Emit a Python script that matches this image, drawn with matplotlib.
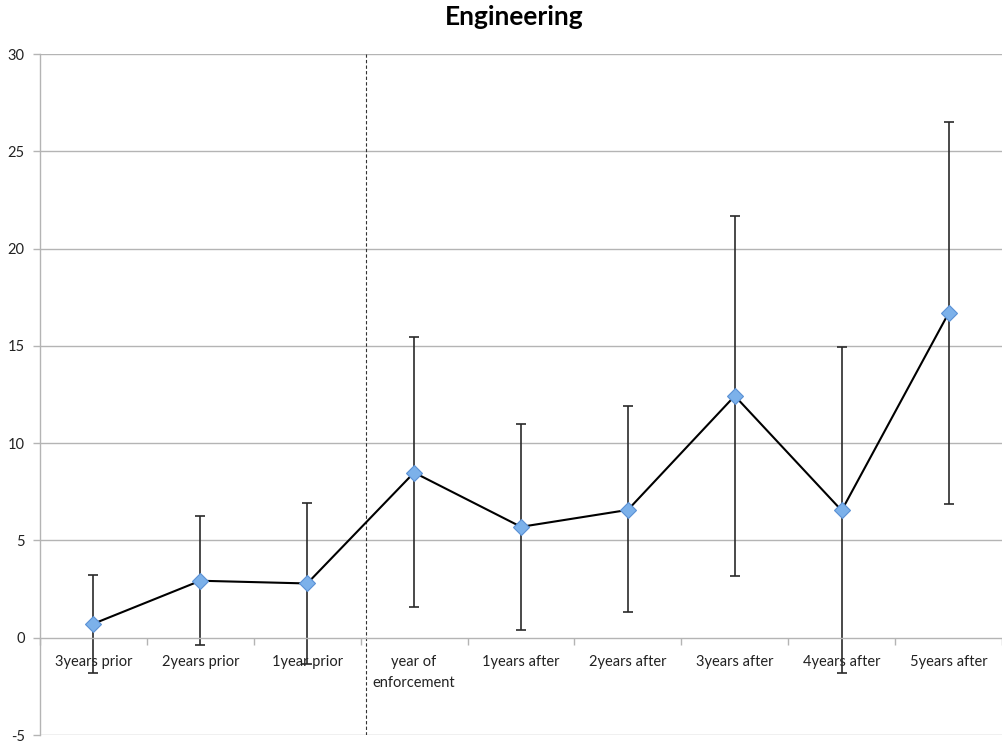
import matplotlib
matplotlib.use("Agg")
import matplotlib.pyplot as plt
import numpy as np

# Category labels along the timeline
categories = ["3years prior", "2years prior", "1year prior", "year of\nenforcement",
              "1years after", "2years after", "3years after", "4years after", "5years after"]

# Mean values and the bounds of their error bars
means = [0.72, 2.93, 2.79, 8.49, 5.70, 6.57, 12.43, 6.54, 16.68]
upper = [3.25, 6.27, 6.95, 15.48, 10.99, 11.92, 21.67, 14.95, 26.50]
lower = [-1.81, -0.38, -1.35, 1.58, 0.39, 1.32, 3.17, -1.81, 6.85]

y_ticks = [-5, 0, 5, 10, 15, 20, 25, 30]
title = "Engineering"
enforcement_line_x = 2.55

plt.rcParams["font.family"] = ["Lato", "DejaVu Sans"]

fig = plt.figure(figsize=(10.02, 7.47), dpi=100)
ax = fig.add_axes([0.0399, 0.016, 0.9601, 0.9117])

x = np.arange(len(categories))
means_a = np.array(means)
yerr = [means_a - np.array(lower), np.array(upper) - means_a]

grid_c = "#b4b4b4"

# Horizontal gridlines
for yv in y_ticks:
    if yv != 0:
        ax.axhline(yv, color=grid_c, lw=1.0, zorder=0)

# Dashed separator at the year of enforcement
ax.plot([enforcement_line_x, enforcement_line_x], [y_ticks[0], y_ticks[-1]],
        color="#333333", lw=0.8, ls=(0, (3, 2)), zorder=1)

# Error bars
ax.errorbar(x, means, yerr=yerr, fmt="none", ecolor="#2a2a2a", elinewidth=1.2,
            capsize=3.8, capthick=1.2, zorder=2)

# Mean line with diamond markers
ax.plot(x, means, color="black", lw=1.5, zorder=3)
ax.plot(x, means, ls="none", marker="D", markersize=8.5, markerfacecolor="#7cb1ea",
        markeredgecolor="#5a90d4", markeredgewidth=0.8, zorder=4)

ax.set_xlim(-0.5, 8.39)
ax.set_ylim(y_ticks[0], y_ticks[-1])

# Spines: left axis and the category axis crossing at zero
for s in ["top", "right"]:
    ax.spines[s].set_visible(False)
ax.spines["left"].set_color(grid_c)
ax.spines["left"].set_linewidth(1.0)
ax.spines["bottom"].set_position(("data", 0))
ax.spines["bottom"].set_color(grid_c)
ax.spines["bottom"].set_linewidth(1.0)

ax.set_yticks(y_ticks)
ax.set_yticklabels([str(v) for v in y_ticks])
ax.tick_params(axis="y", direction="out", length=5, color=grid_c, width=1.0,
               labelsize=10.5, labelcolor="#222222", pad=6)

# Boundary ticks between categories, labels centered on categories
ax.set_xticks(np.arange(len(categories) + 1) - 0.5)
ax.set_xticklabels([])
ax.set_xticks(x, minor=True)
ax.set_xticklabels(categories, minor=True, fontsize=10.5, color="#222222",
                   linespacing=1.6, va="top")
ax.tick_params(axis="x", which="major", direction="out", length=5, color=grid_c, width=1.0)
ax.tick_params(axis="x", which="minor", length=0, pad=12.5)

fig.suptitle(title, x=0.513, y=0.993, fontsize=19, fontweight="bold", va="top")

fig.savefig("out.png", dpi=100)
